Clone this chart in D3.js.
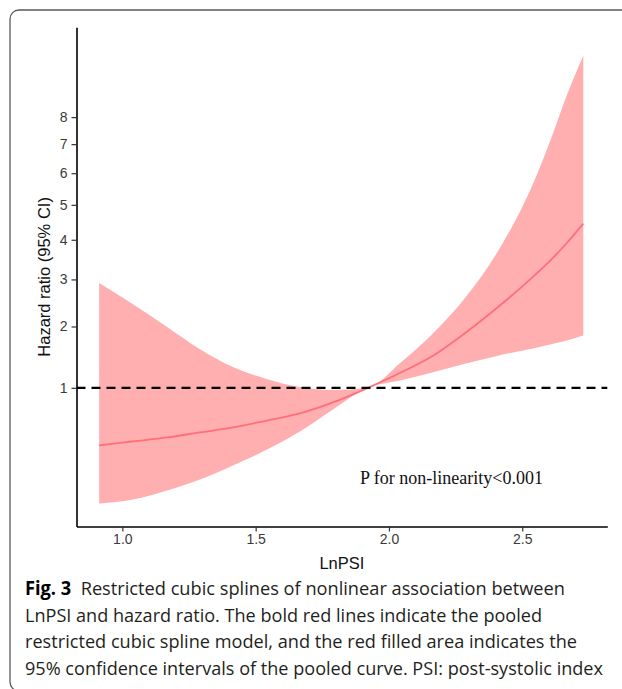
<!DOCTYPE html>
<html>
<head>
<meta charset="utf-8">
<script src="https://cdn.jsdelivr.net/npm/d3@7"></script>
<style>
  body { margin: 0; background: #fff; }
  svg { display: block; }
</style>
</head>
<body>
<script>
// spline estimates
const lnPSI   = [0.913, 1.040, 1.168, 1.291, 1.415, 1.543, 1.666, 1.790, 1.921, 2.041, 2.165, 2.292, 2.416, 2.540, 2.604, 2.668, 2.729];
const hrFit   = [0.373, 0.407, 0.442, 0.488, 0.536, 0.607, 0.684, 0.812, 1.00, 1.21, 1.48, 1.90, 2.42, 3.06, 3.45, 3.92, 4.45];
const hrLower = [0.048, 0.060, 0.094, 0.145, 0.226, 0.340, 0.497, 0.729, 1.00, 1.10, 1.22, 1.36, 1.49, 1.60, 1.67, 1.74, 1.83];
const hrUpper = [2.92, 2.45, 1.99, 1.59, 1.30, 1.12, 1.01, 0.97, 1.00, 1.36, 1.87, 2.63, 3.78, 5.65, 7.10, 8.88, 10.53];

const yTicks = [1, 2, 3, 4, 5, 6, 7, 8];
const xTicks = [1.0, 1.5, 2.0, 2.5];
const pText = 'P for non-linearity<0.001';
const captionLines = [
  ['Fig. 3', '  Restricted cubic splines of nonlinear association between'],
  ['', 'LnPSI and hazard ratio. The bold red lines indicate the pooled'],
  ['', 'restricted cubic spline model, and the red filled area indicates the'],
  ['', '95% confidence intervals of the pooled curve. PSI: post-systolic index']
];

const width = 622, height = 689;
const panel = { left: 76.5, right: 607.3, top: 27.3, bottom: 526.5 };

const svg = d3.select('body').append('svg')
  .attr('width', width)
  .attr('height', height);

// outer frame of the figure box (cut by the page edge on the right and bottom)
svg.append('rect')
  .attr('x', 10).attr('y', 10)
  .attr('width', 640).attr('height', 681)
  .attr('rx', 9).attr('ry', 9)
  .style('fill', 'none')
  .style('stroke', '#5a5a5a')
  .style('stroke-width', 1.3);

const x = d3.scaleLinear().domain([0.828, 2.819]).range([panel.left, panel.right]);
const y = d3.scaleSqrt().domain([0.004, 11.8]).range([panel.bottom, panel.top]);

const rows = lnPSI.map((v, i) => ({ x: v, fit: hrFit[i], lo: hrLower[i], hi: hrUpper[i] }));

const g = svg.append('g');

g.append('path')
  .datum(rows)
  .attr('d', d3.area()
    .x(d => x(d.x))
    .y0(d => y(d.lo))
    .y1(d => y(d.hi))
    .curve(d3.curveMonotoneX))
  .style('fill', '#ffafb0')
  .style('stroke', 'none');

g.append('path')
  .datum(rows)
  .attr('d', d3.line()
    .x(d => x(d.x))
    .y(d => y(d.fit))
    .curve(d3.curveMonotoneX))
  .style('fill', 'none')
  .style('stroke', '#ff6f7b')
  .style('stroke-width', 1.8);

// reference line at HR = 1
g.append('line')
  .attr('x1', panel.left).attr('x2', panel.right)
  .attr('y1', y(1)).attr('y2', y(1))
  .style('stroke', '#000')
  .style('stroke-width', 2.2)
  .style('stroke-dasharray', '9,6');

const xAxis = svg.append('g')
  .attr('transform', `translate(0,${panel.bottom})`)
  .call(d3.axisBottom(x).tickValues(xTicks).tickFormat(d3.format('.1f'))
    .tickSize(5).tickSizeOuter(0).tickPadding(3));

const yAxis = svg.append('g')
  .attr('transform', `translate(${panel.left},0)`)
  .call(d3.axisLeft(y).tickValues(yTicks).tickFormat(d3.format('d'))
    .tickSize(5).tickSizeOuter(0).tickPadding(4));

[xAxis, yAxis].forEach(a => {
  a.attr('font-size', 14).attr('font-family', '"Liberation Sans", Arial, sans-serif');
  a.select('.domain').style('stroke', '#000').style('stroke-width', 1.6);
  a.selectAll('.tick line').style('stroke', '#333').style('stroke-width', 1.2);
  a.selectAll('.tick text').style('fill', '#3a3a3a');
});

svg.append('text')
  .attr('x', (panel.left + panel.right) / 2)
  .attr('y', 569)
  .attr('text-anchor', 'middle')
  .style('font-family', '"Liberation Sans", Arial, sans-serif')
  .style('font-size', '16.5px')
  .style('fill', '#111')
  .text('LnPSI');

svg.append('text')
  .attr('transform', `translate(50,${(panel.top + panel.bottom) / 2}) rotate(-90)`)
  .attr('text-anchor', 'middle')
  .style('font-family', '"Liberation Sans", Arial, sans-serif')
  .style('font-size', '16.5px')
  .style('fill', '#111')
  .text('Hazard ratio (95% CI)');

svg.append('text')
  .attr('x', 360)
  .attr('y', 484)
  .style('font-family', '"Liberation Serif", "Times New Roman", serif')
  .style('font-size', '18px')
  .style('fill', '#111')
  .text(pText);

// caption
const capBase = [595, 621.5, 648, 674.5];
const capWidth = [540, 517, 552, 578];
captionLines.forEach((ln, i) => {
  const t = svg.append('text')
    .attr('x', 25)
    .attr('y', capBase[i])
    .attr('textLength', capWidth[i])
    .attr('lengthAdjust', 'spacingAndGlyphs')
    .style('font-family', '"Open Sans", "Noto Sans", sans-serif')
    .style('font-size', '18.7px')
    .style('fill', '#231f20')
    .style('white-space', 'pre');
  if (ln[0]) t.append('tspan').style('font-weight', 'bold').style('fill', '#000').text(ln[0]);
  t.append('tspan').text(ln[1]);
});
</script>
</body>
</html>
